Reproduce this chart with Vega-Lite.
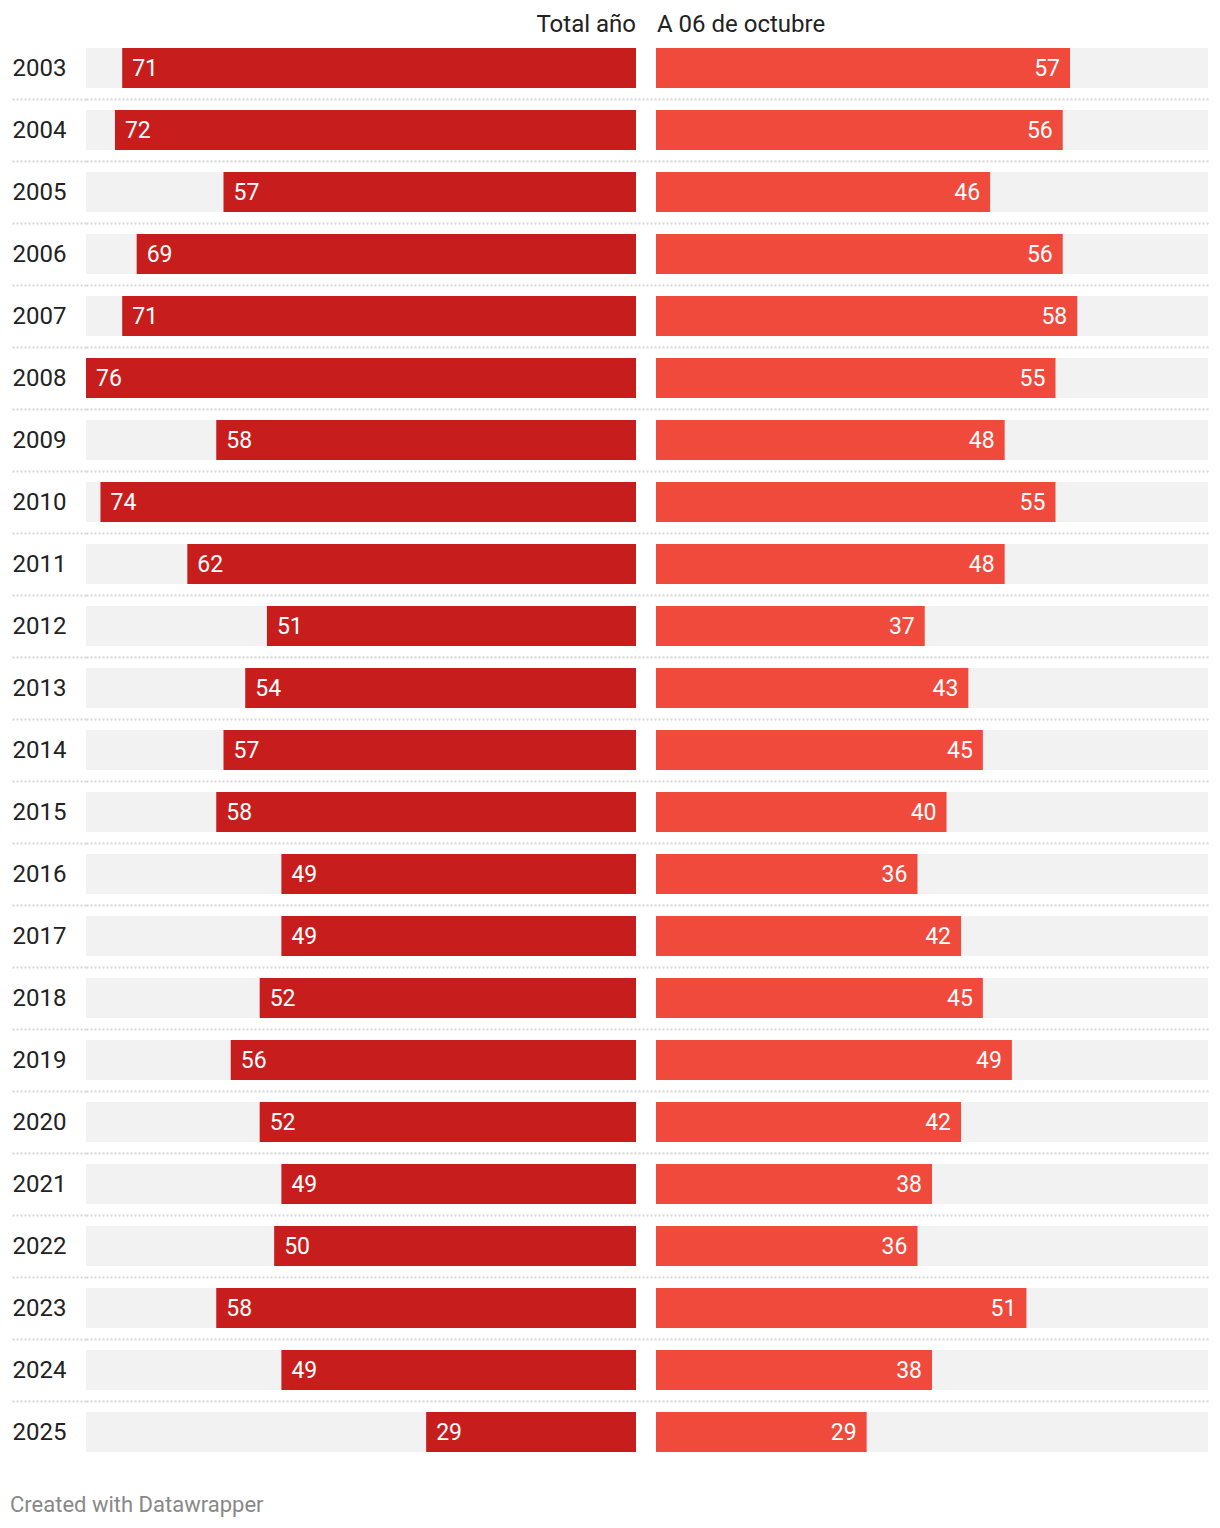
{
  "$schema": "https://vega.github.io/schema/vega-lite/v6.json",
  "autosize": {"type": "none"},
  "width": 1122,
  "height": 1426,
  "padding": {"left": 86, "top": 37, "right": 12, "bottom": 65},
  "background": "white",
  "config": {"view": {"stroke": null}, "font": "Roboto"},
  "title": {"text": "Created with Datawrapper", "orient": "bottom", "anchor": "start", "frame": "bounds", "font": "Roboto", "fontSize": 22, "fontWeight": "normal", "color": "#888888", "offset": 32, "dx": -1},
  "data": {"values": [
    {"year": 2003, "total": 71, "partial": 57},
    {"year": 2004, "total": 72, "partial": 56},
    {"year": 2005, "total": 57, "partial": 46},
    {"year": 2006, "total": 69, "partial": 56},
    {"year": 2007, "total": 71, "partial": 58},
    {"year": 2008, "total": 76, "partial": 55},
    {"year": 2009, "total": 58, "partial": 48},
    {"year": 2010, "total": 74, "partial": 55},
    {"year": 2011, "total": 62, "partial": 48},
    {"year": 2012, "total": 51, "partial": 37},
    {"year": 2013, "total": 54, "partial": 43},
    {"year": 2014, "total": 57, "partial": 45},
    {"year": 2015, "total": 58, "partial": 40},
    {"year": 2016, "total": 49, "partial": 36},
    {"year": 2017, "total": 49, "partial": 42},
    {"year": 2018, "total": 52, "partial": 45},
    {"year": 2019, "total": 56, "partial": 49},
    {"year": 2020, "total": 52, "partial": 42},
    {"year": 2021, "total": 49, "partial": 38},
    {"year": 2022, "total": 50, "partial": 36},
    {"year": 2023, "total": 58, "partial": 51},
    {"year": 2024, "total": 49, "partial": 38},
    {"year": 2025, "total": 29, "partial": 29}
  ]},
  "encoding": {
    "y": {
      "field": "year", "type": "ordinal",
      "scale": {"paddingInner": 0, "paddingOuter": 0},
      "axis": {
        "title": null, "domain": false,
        "ticks": true, "tickSize": 74, "tickWidth": 2, "tickColor": "#d6d6d6", "tickDash": [2, 2],
        "tickOpacity": {"condition": {"test": "datum.value == 2025", "value": 0}, "value": 1},
        "grid": true, "gridWidth": 2, "gridColor": "#d6d6d6", "gridDash": [2, 2],
        "gridOpacity": {"condition": {"test": "datum.value == 2025", "value": 0}, "value": 1},
        "bandPosition": 1,
        "labelAlign": "left", "labelBaseline": "middle", "labelPadding": 0, "labelOffset": 1,
        "labelFont": "Roboto", "labelFontSize": 24, "labelColor": "#222222"
      }
    }
  },
  "layer": [
    {
      "layer": [
        {
          "mark": {"type": "bar", "color": "#f2f2f2", "height": {"band": 0.645}},
          "encoding": {
            "x": {"datum": 76, "type": "quantitative", "scale": {"domain": [-79.04, 76], "reverse": true, "zero": false, "nice": false}, "axis": null},
            "x2": {"datum": 0}
          }
        },
        {
          "mark": {"type": "bar", "color": "#c71e1d", "height": {"band": 0.645}},
          "encoding": {
            "x": {"field": "total", "type": "quantitative", "scale": {"domain": [-79.04, 76], "reverse": true, "zero": false, "nice": false}, "axis": null},
            "x2": {"datum": 0}
          }
        },
        {
          "mark": {"type": "text", "align": "left", "baseline": "middle", "dx": 10, "dy": 1, "color": "white", "font": "Roboto", "fontSize": 23},
          "encoding": {
            "x": {"field": "total", "type": "quantitative", "scale": {"domain": [-79.04, 76], "reverse": true, "zero": false, "nice": false}, "axis": null},
            "text": {"field": "total", "type": "quantitative"}
          }
        },
        {
          "data": {"values": [{"header": "Total año"}]},
          "mark": {"type": "text", "align": "right", "baseline": "middle", "yOffset": -43, "color": "#222222", "font": "Roboto", "fontSize": 24},
          "encoding": {
            "x": {"datum": 0, "type": "quantitative", "scale": {"domain": [-79.04, 76], "reverse": true, "zero": false, "nice": false}, "axis": null},
            "y": {"datum": 2003, "type": "ordinal"},
            "text": {"field": "header", "type": "nominal"}
          }
        }
      ]
    },
    {
      "layer": [
        {
          "mark": {"type": "bar", "color": "#f2f2f2", "height": {"band": 0.645}},
          "encoding": {
            "x": {"datum": 0, "type": "quantitative", "scale": {"domain": [-78.48, 76], "zero": false, "nice": false}, "axis": null},
            "x2": {"datum": 76}
          }
        },
        {
          "mark": {"type": "bar", "color": "#f04a3c", "height": {"band": 0.645}},
          "encoding": {
            "x": {"field": "partial", "type": "quantitative", "scale": {"domain": [-78.48, 76], "zero": false, "nice": false}, "axis": null},
            "x2": {"datum": 0}
          }
        },
        {
          "mark": {"type": "text", "align": "right", "baseline": "middle", "dx": -10, "dy": 1, "color": "white", "font": "Roboto", "fontSize": 23},
          "encoding": {
            "x": {"field": "partial", "type": "quantitative", "scale": {"domain": [-78.48, 76], "zero": false, "nice": false}, "axis": null},
            "text": {"field": "partial", "type": "quantitative"}
          }
        },
        {
          "data": {"values": [{"header": "A 06 de octubre"}]},
          "mark": {"type": "text", "align": "left", "baseline": "middle", "yOffset": -43, "dx": 1, "color": "#222222", "font": "Roboto", "fontSize": 24},
          "encoding": {
            "x": {"datum": 0, "type": "quantitative", "scale": {"domain": [-78.48, 76], "zero": false, "nice": false}, "axis": null},
            "y": {"datum": 2003, "type": "ordinal"},
            "text": {"field": "header", "type": "nominal"}
          }
        }
      ]
    }
  ],
  "resolve": {"scale": {"x": "independent"}}
}
